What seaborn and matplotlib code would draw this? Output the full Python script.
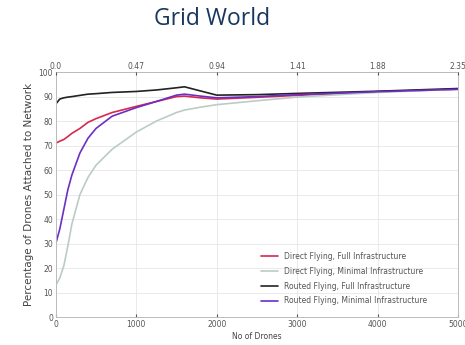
import matplotlib
matplotlib.use("Agg")
import matplotlib.pyplot as plt
import seaborn as sns
import pandas as pd

# Number of drones sampled in the simulation
drones = [0, 50, 100, 150, 200, 300, 400, 500, 700, 1000, 1250, 1500, 1600, 1800, 2000, 2500, 3000, 4000, 5000]

# Percentage of drones attached to the network for each strategy
direct_full = [71, 71.8, 72.5, 73.7, 75, 77, 79.5, 81, 83.5, 86, 88, 90, 90.2, 89.5, 89, 89.7, 90.5, 92, 93]
direct_minimal = [13, 16, 21, 29, 38, 50, 57, 62, 68.5, 75.5, 80, 83.5, 84.5, 85.7, 86.7, 88.3, 89.8, 91.7, 93]
routed_full = [87, 89, 89.5, 89.8, 90, 90.5, 91, 91.2, 91.7, 92.1, 92.7, 93.6, 94, 92.3, 90.6, 90.8, 91.3, 92.2, 93.3]
routed_minimal = [30, 36, 44, 52, 58, 67, 73, 77, 82, 85.5, 88, 90.6, 91, 90.2, 89.5, 90, 90.8, 92, 93]

series_names = [
    "Direct Flying, Full Infrastructure",
    "Direct Flying, Minimal Infrastructure",
    "Routed Flying, Full Infrastructure",
    "Routed Flying, Minimal Infrastructure",
]
series_values = [direct_full, direct_minimal, routed_full, routed_minimal]
colors = ["#d8284f", "#bcccc4", "#222222", "#6b2fc4"]

# Secondary (top) axis tick labels
top_labels = ["0.0", "0.47", "0.94", "1.41", "1.88", "2.35"]
x_ticks = [0, 1000, 2000, 3000, 4000, 5000]
y_ticks = [0, 10, 20, 30, 40, 50, 60, 70, 80, 90, 100]

rows = []
for name, vals in zip(series_names, series_values):
    for d, v in zip(drones, vals):
        rows.append({"drones": d, "pct": v, "series": name})
df = pd.DataFrame(rows)

sns.set_style("whitegrid")
plt.rcParams["font.family"] = ["DejaVu Sans"]

fig = plt.figure(figsize=(4.65, 3.45), dpi=100)
ax = fig.add_axes([0.120, 0.081, 0.865, 0.710])

sns.lineplot(data=df, x="drones", y="pct", hue="series", hue_order=series_names,
             palette=dict(zip(series_names, colors)), linewidth=1.2, ax=ax)

ax.set_xlim(0, 5000)
ax.set_ylim(0, 100)
ax.set_xticks(x_ticks)
ax.set_yticks(y_ticks)
ax.tick_params(axis="both", labelsize=5.5, colors="#555555", length=2, direction="in", pad=2)
ax.set_xlabel("No of Drones", fontsize=5.5, color="#444444", labelpad=2)
ax.set_ylabel("Percentage of Drones Attached to Network", fontsize=7.5, color="#444444", labelpad=3)
ax.grid(color="#e6e6e6", linewidth=0.6)
for s in ax.spines.values():
    s.set_color("#bbbbbb")
    s.set_linewidth(0.7)

top = ax.twiny()
top.set_xlim(ax.get_xlim())
top.set_xticks(x_ticks)
top.set_xticklabels(top_labels)
top.tick_params(axis="x", labelsize=5.5, colors="#555555", length=2, direction="in", pad=1)
top.grid(False)
for s in top.spines.values():
    s.set_visible(False)

leg = ax.legend(loc="lower right", fontsize=5.5, frameon=False, handlelength=2.2,
                labelspacing=0.75, bbox_to_anchor=(0.94, 0.02))
for t in leg.get_texts():
    t.set_color("#555555")

fig.text(0.456, 0.946, "Grid World", fontsize=16.5, color="#17375e",
         family="Open Sans", ha="center", va="center")

fig.savefig("out.png", dpi=100)
